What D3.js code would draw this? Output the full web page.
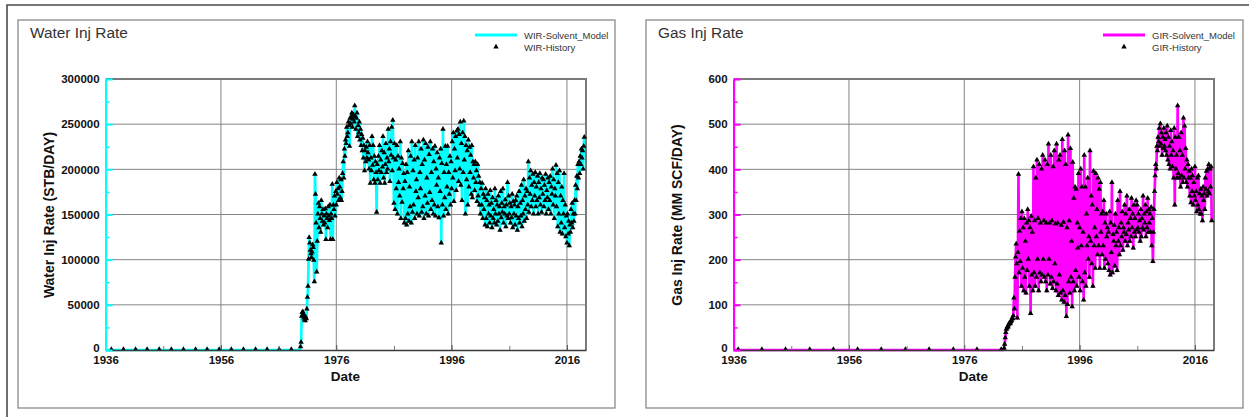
<!DOCTYPE html>
<html><head><meta charset="utf-8">
<script src="https://cdn.jsdelivr.net/npm/d3@7"></script>
<style>
body{margin:0;background:#fff;}
svg{display:block;font-family:Arial,"Liberation Sans",sans-serif;}
</style>
</head><body>
<svg id="c" width="1249" height="417"></svg>
<script>
// ---------------- DATA ----------------
// Each row: [startYear, values at startYear + 0, +0.1, +0.2, ...]
// Water rates in thousand STB/DAY
const waterRows = [
  [1969.8, 3, 8],
  [1970, 37, 41, 42, 39, 35, 33, 32, 36, 34, 45],
  [1971, 58, 70, 100, 124, 118, 110, 106, 102, 108, 116],
  [1972, 113, 99, 75, 194, 172, 140, 86, 120, 150, 162],
  [1973, 135, 158, 145, 130, 165, 150, 142, 155, 138, 148],
  [1974, 140, 156, 122, 150, 145, 135, 158, 148, 143, 160],
  [1975, 122, 150, 145, 183, 122, 160, 155, 170, 148, 175],
  [1976, 160, 185, 172, 178, 165, 190, 180, 168, 188, 165],
  [1977, 175, 195, 208, 190, 222, 214, 232, 228, 246, 236],
  [1978, 240, 252, 248, 225, 256, 250, 258, 262, 246, 255],
  [1979, 260, 252, 270, 258, 244, 256, 262, 236, 248, 240],
  [1980, 252, 232, 244, 226, 238, 220, 234, 212, 226, 198],
  [1981, 220, 208, 224, 212, 230, 218, 210, 200, 226, 184],
  [1982, 212, 198, 236, 204, 226, 188, 214, 184, 208, 196],
  [1983, 152, 205, 188, 214, 198, 226, 184, 210, 196, 220],
  [1984, 202, 236, 190, 218, 184, 205, 228, 196, 212, 200],
  [1985, 244, 208, 222, 186, 230, 215, 246, 198, 254, 212],
  [1986, 162, 228, 155, 210, 178, 226, 150, 214, 185, 200],
  [1987, 170, 230, 145, 212, 163, 206, 178, 195, 140, 186],
  [1988, 145, 205, 138, 196, 150, 220, 142, 180, 158, 214],
  [1989, 140, 230, 152, 198, 160, 210, 145, 226, 175, 188],
  [1990, 150, 212, 168, 230, 148, 196, 178, 222, 152, 205],
  [1991, 158, 232, 145, 210, 170, 228, 150, 190, 162, 224],
  [1992, 148, 216, 174, 230, 155, 196, 165, 222, 150, 208],
  [1993, 160, 225, 148, 200, 182, 218, 158, 190, 146, 212],
  [1994, 175, 222, 118, 206, 160, 244, 148, 196, 168, 225],
  [1995, 155, 205, 180, 225, 150, 196, 172, 214, 160, 208],
  [1996, 178, 230, 190, 240, 164, 222, 198, 236, 176, 242],
  [1997, 212, 244, 186, 238, 200, 252, 182, 228, 165, 240],
  [1998, 196, 253, 210, 236, 150, 226, 188, 220, 160, 232],
  [1999, 180, 224, 196, 215, 172, 226, 168, 208, 190, 205],
  [2000, 176, 208, 185, 198, 164, 205, 170, 192, 160, 185],
  [2001, 150, 178, 160, 184, 145, 172, 155, 168, 138, 178],
  [2002, 145, 165, 136, 172, 150, 160, 140, 176, 148, 162],
  [2003, 135, 168, 145, 155, 140, 178, 150, 165, 138, 160],
  [2004, 142, 170, 150, 158, 132, 175, 146, 162, 152, 178],
  [2005, 140, 158, 150, 166, 136, 160, 148, 185, 145, 170],
  [2006, 150, 162, 140, 158, 146, 172, 135, 164, 150, 160],
  [2007, 138, 165, 148, 170, 132, 158, 145, 175, 140, 162],
  [2008, 148, 182, 136, 165, 150, 188, 142, 170, 155, 178],
  [2009, 145, 175, 160, 208, 152, 190, 172, 198, 158, 182],
  [2010, 165, 194, 150, 185, 170, 196, 158, 180, 165, 192],
  [2011, 150, 185, 168, 195, 160, 178, 152, 190, 172, 188],
  [2012, 158, 182, 165, 194, 150, 176, 168, 190, 155, 185],
  [2013, 165, 192, 150, 180, 172, 200, 160, 188, 145, 178],
  [2014, 170, 204, 158, 195, 136, 185, 150, 198, 130, 170],
  [2015, 140, 180, 128, 165, 150, 195, 135, 160, 125, 148],
  [2016, 118, 150, 128, 142, 115, 138, 130, 155, 140, 162],
  [2017, 135, 150, 142, 165, 150, 182, 165, 192, 178, 205],
  [2018, 190, 208, 195, 214, 205, 222, 212, 220, 200, 225],
  [2019, 235]
];
const waterZeroYears = [1937.0, 1939.1, 1941.2, 1943.2, 1945.3, 1947.4, 1949.5, 1951.6,
  1953.6, 1955.7, 1957.8, 1959.9, 1962.0, 1964.0, 1966.1, 1968.2];

// Gas rates in MM SCF/DAY
const gasRows = [
  [1982.9, 3],
  [1983, 12, 26, 38, 45, 48, 51, 50, 55, 59, 57],
  [1984, 59, 62, 65, 70, 68, 75, 114, 90, 160, 205],
  [1985, 234, 190, 70, 215, 388, 170, 262, 195, 290, 140],
  [1986, 305, 180, 270, 130, 290, 160, 240, 125, 280, 175],
  [1987, 310, 200, 285, 140, 270, 80, 295, 165, 260, 130],
  [1988, 405, 170, 285, 140, 380, 160, 420, 200, 290, 130],
  [1989, 410, 170, 280, 150, 400, 165, 430, 200, 285, 160],
  [1990, 420, 150, 280, 130, 410, 165, 455, 200, 280, 145],
  [1991, 430, 160, 285, 135, 405, 150, 440, 190, 278, 130],
  [1992, 455, 145, 280, 120, 420, 165, 430, 125, 275, 110],
  [1993, 465, 130, 282, 105, 440, 120, 410, 73, 270, 100],
  [1994, 475, 150, 285, 125, 445, 160, 240, 95, 415, 150],
  [1995, 335, 130, 360, 175, 355, 140, 280, 225, 390, 160],
  [1996, 270, 130, 400, 230, 360, 150, 260, 110, 430, 170],
  [1997, 360, 140, 300, 230, 380, 200, 250, 160, 440, 240],
  [1998, 340, 190, 320, 140, 395, 230, 270, 180, 390, 250],
  [1999, 310, 210, 380, 230, 355, 180, 370, 260, 300, 210],
  [2000, 305, 230, 330, 180, 280, 200, 300, 250, 270, 190],
  [2001, 260, 175, 305, 165, 280, 215, 370, 170, 255, 240],
  [2002, 275, 185, 300, 230, 260, 175, 330, 240, 270, 210],
  [2003, 350, 230, 280, 250, 305, 220, 270, 260, 320, 240],
  [2004, 300, 255, 340, 230, 280, 265, 310, 240, 290, 250],
  [2005, 335, 270, 300, 225, 320, 260, 290, 250, 330, 265],
  [2006, 320, 270, 300, 260, 285, 240, 310, 250, 290, 270],
  [2007, 340, 265, 300, 280, 320, 250, 305, 270, 335, 260],
  [2008, 310, 280, 300, 260, 315, 230, 290, 195, 260, 310],
  [2009, 350, 385, 410, 400, 450, 440, 470, 460, 490, 450],
  [2010, 500, 455, 480, 430, 470, 445, 490, 450, 465, 440],
  [2011, 480, 430, 495, 420, 470, 410, 450, 400, 485, 430],
  [2012, 460, 405, 440, 380, 490, 320, 470, 400, 430, 380],
  [2013, 540, 390, 470, 380, 440, 360, 480, 385, 430, 370],
  [2014, 513, 380, 495, 400, 445, 370, 420, 360, 410, 380],
  [2015, 395, 340, 380, 325, 400, 350, 385, 320, 370, 340],
  [2016, 405, 330, 350, 305, 380, 320, 385, 310, 345, 300],
  [2017, 355, 300, 340, 285, 360, 330, 345, 310, 380, 355],
  [2018, 395, 340, 400, 350, 410, 345, 400, 360, 405, 285]
];
const gasZeroYears = [1936.8, 1940.9, 1945.0, 1949.2, 1953.3, 1957.5, 1961.6, 1965.8,
  1969.9, 1974.1, 1978.2, 1982.4];

const waterTicks = [0, 50000, 100000, 150000, 200000, 250000, 300000];
const waterMinorTicks = [25000, 75000, 125000, 175000, 225000, 275000];
const gasTicks = [0, 100, 200, 300, 400, 500, 600];
const gasMinorTicks = [50, 150, 250, 350, 450, 550];
const yearTicks = [1936, 1956, 1976, 1996, 2016];
const minorYearTicks = [1946, 1966, 1986, 2006];

// ---------------- DRAW ----------------
const svg = d3.select("#c");
svg.append("rect").attr("width", 1249).attr("height", 417).attr("fill", "#fff");
svg.append("path").attr("d", "M7,417 V5 H1249").attr("fill", "none")
  .attr("stroke", "#4a4a4a").attr("stroke-width", 1.6);

function expand(rows, unit) {
  const pts = [];
  rows.forEach(r => {
    const s = r[0];
    r.slice(1).forEach((v, i) => pts.push({ t: s + i * 0.1, v: v * unit }));
  });
  return pts;
}

function panel(cfg) {
  const g = svg.append("g").attr("transform", `translate(${cfg.ox},0)`);
  g.append("rect").attr("x", 18).attr("y", 20).attr("width", 597).attr("height", 388)
    .attr("fill", "#fff").attr("stroke", "#8a8a8a").attr("stroke-width", 1.3);

  const x = d3.scaleLinear().domain([1936, 2019.3]).range([105.6, 586]);
  const y = d3.scaleLinear().domain([0, cfg.ymax]).range([350, 79]);
  const [x0, x1] = x.range();

  // gridlines
  g.append("g").selectAll("line").data(cfg.ticks.slice(1, -1)).join("line")
    .attr("x1", x0).attr("x2", x1).attr("y1", d => y(d)).attr("y2", d => y(d))
    .attr("stroke", "#858585").attr("stroke-width", 1);
  g.append("g").selectAll("line").data(yearTicks.slice(1)).join("line")
    .attr("x1", d => x(d)).attr("x2", d => x(d)).attr("y1", 79).attr("y2", 350)
    .attr("stroke", "#858585").attr("stroke-width", 1);
  // top/right frame
  g.append("path").attr("d", `M${x0},79 H${x1} V350`).attr("fill", "none")
    .attr("stroke", "#7a7a7a").attr("stroke-width", 2);

  // data
  const pts = expand(cfg.rows, cfg.unit);
  const model = [{ t: 1936, v: 0 }, { t: pts[0].t - 0.1, v: 0 }].concat(pts);
  const hist = cfg.zeroYears.map(t => ({ t, v: 0 })).concat(pts);

  g.append("path").datum(model)
    .attr("d", d3.line().x(d => x(d.t)).y(d => y(d.v)))
    .attr("fill", "none").attr("stroke", cfg.color).attr("stroke-width", 2.7)
    .attr("stroke-linejoin", "round");

  const tri = d3.symbol().type(d3.symbolTriangle).size(13);
  g.append("g").selectAll("path").data(hist).join("path")
    .attr("transform", d => `translate(${x(d.t)},${y(d.v) - 0.5})`)
    .attr("d", tri).attr("fill", "#000");

  // bottom axis
  const xa = g.append("g").attr("transform", "translate(0,350)")
    .call(d3.axisBottom(x).tickValues(yearTicks).tickFormat(d3.format("d"))
      .tickSizeInner(-5).tickSizeOuter(0).tickPadding(6));
  xa.select(".domain").attr("stroke", "#3a3a3a").attr("stroke-width", 1.5);
  xa.selectAll(".tick line").attr("stroke", "#555");
  xa.selectAll("text").attr("font-size", "11.5px").attr("font-weight", "bold")
    .attr("fill", "#111").attr("font-family", "Arial,'Liberation Sans',sans-serif");
  const xm = g.append("g").attr("transform", "translate(0,350)")
    .call(d3.axisBottom(x).tickValues(minorYearTicks).tickFormat("").tickSizeInner(-4).tickSizeOuter(0));
  xm.select(".domain").remove();
  xm.selectAll(".tick line").attr("stroke", "#777");

  // left axis (series coloured)
  const ya = g.append("g").attr("transform", `translate(${x0},0)`)
    .call(d3.axisLeft(y).tickValues(cfg.ticks).tickFormat(d3.format("d"))
      .tickSizeInner(-7).tickSizeOuter(0).tickPadding(6));
  ya.select(".domain").attr("stroke", cfg.color).attr("stroke-width", 2.2);
  ya.selectAll(".tick line").attr("stroke", cfg.color).attr("stroke-width", 2);
  ya.selectAll("text").attr("font-size", "11.5px").attr("font-weight", "bold")
    .attr("fill", "#111").attr("font-family", "Arial,'Liberation Sans',sans-serif")
    .attr("dy", d => d === 0 ? "0.1em" : "0.32em");
  const ym = g.append("g").attr("transform", `translate(${x0},0)`)
    .call(d3.axisLeft(y).tickValues(cfg.minor).tickFormat("").tickSizeInner(-4).tickSizeOuter(0));
  ym.select(".domain").remove();
  ym.selectAll(".tick line").attr("stroke", cfg.color).attr("stroke-width", 1.5);

  // labels
  g.append("text").attr("x", 30).attr("y", 38).text(cfg.title)
    .attr("font-size", "15.4px").attr("fill", "#333");
  g.append("text").attr("x", (x0 + x1) / 2 - 0.5).attr("y", 381).attr("text-anchor", "middle")
    .text("Date").attr("font-size", "13.5px").attr("font-weight", "bold").attr("fill", "#111");
  g.append("text").attr("transform", "translate(54,215) rotate(-90)").attr("text-anchor", "middle")
    .text(cfg.ylabel).attr("font-size", "14px").attr("font-weight", "bold").attr("fill", "#111");

  // legend
  g.append("line").attr("x1", 475).attr("x2", 517).attr("y1", 35).attr("y2", 35)
    .attr("stroke", cfg.color).attr("stroke-width", 3);
  g.append("text").attr("x", 524).attr("y", 38.5).text(cfg.legModel)
    .attr("font-size", "9.5px").attr("fill", "#333");
  g.append("path").attr("transform", "translate(496,47)").attr("d", tri).attr("fill", "#000");
  g.append("text").attr("x", 524).attr("y", 50.5).text(cfg.legHist)
    .attr("font-size", "9.5px").attr("fill", "#333");
}

panel({
  ox: 0, rows: waterRows, unit: 1000, zeroYears: waterZeroYears, ymax: 300000,
  ticks: waterTicks, minor: waterMinorTicks, color: "#00ffff",
  title: "Water Inj Rate", ylabel: "Water Inj Rate (STB/DAY)",
  legModel: "WIR-Solvent_Model", legHist: "WIR-History"
});
panel({
  ox: 628, rows: gasRows, unit: 1, zeroYears: gasZeroYears, ymax: 600,
  ticks: gasTicks, minor: gasMinorTicks, color: "#ff00ff",
  title: "Gas Inj Rate", ylabel: "Gas Inj Rate (MM SCF/DAY)",
  legModel: "GIR-Solvent_Model", legHist: "GIR-History"
});
</script>
</body></html>
